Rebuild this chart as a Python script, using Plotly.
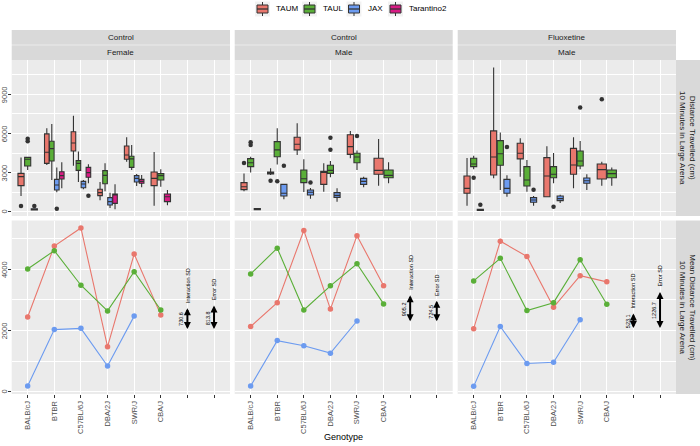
import plotly.graph_objects as go

# ---------------- data ----------------
GENOTYPES = ["BALB/cJ", "BTBR", "C57BL/6J", "DBA/2J", "SWR/J", "CBA/J"]
X_TICK_LABELS = GENOTYPES + ["", ""]
STRAINS = ["TAUM", "TAUL", "JAX", "Tarantino2"]
COLORS = ["#E9776D", "#5AAF38", "#6C9BF0", "#D81B84"]
PANEL_TREATMENT = ["Control", "Control", "Fluoxetine"]
PANEL_SEX = ["Female", "Male", "Male"]
ROW_LABELS = ["Distance Travelled (cm)<br>10 Minutes in Large Arena",
              "Mean Distance Travelled (cm)<br>10 Minutes in Large Arena"]
TOP_Y_TICKS = [0, 3000, 6000, 9000]
BOTTOM_Y_TICKS = [0, 2000, 4000]

# box stats per genotype: (q1, median, q3, lower whisker, upper whisker); None = no data
ctrl_f_taum_box = [(2000, 2690, 2940, 1200, 4150), (3710, 4560, 5970, 3580, 6400), (4660, 5270, 6140, 3530, 7370),
                   (1230, 1460, 1720, 870, 2280), (4020, 4350, 5040, 3840, 5710), (2000, 2560, 3050, 460, 4580)]
ctrl_f_taul_box = [(3510, 4020, 4170, 3200, 4220), (3890, 4840, 5400, 2430, 6730), (3170, 3710, 3920, 2280, 4610),
                   (2150, 2790, 3150, 1560, 3710), (3400, 4050, 4250, 3200, 5120), (2430, 2770, 2920, 1920, 3250)]
ctrl_f_jax_box = [(130, 180, 230, 100, 260), (1660, 2050, 2480, 1490, 3400), (1840, 2130, 2330, 1720, 2430),
                  (510, 770, 1080, 280, 1460), (2280, 2560, 2770, 1970, 2890), None]
ctrl_f_tar_box = [None, (2510, 2770, 3070, 1790, 3790), (2640, 3000, 3400, 2180, 3640),
                  (640, 1280, 1360, 180, 2100), (2180, 2330, 2480, 1870, 2820), (770, 1150, 1360, 490, 1660)]

ctrl_m_taum_box = [(1690, 1920, 2230, 1560, 2940), (2900, 3000, 3050, 2820, 3330), (4740, 5170, 5710, 4350, 6780),
                   (2100, 3020, 3100, 1540, 3710), (4400, 4990, 5910, 4100, 6200), (2870, 3170, 4100, 2000, 5580)]
ctrl_m_taul_box = [(3460, 3760, 4070, 3000, 4220), (4220, 4740, 5380, 3630, 6400), (2230, 2530, 3200, 1510, 4020),
                   (2940, 3170, 3560, 2640, 3890), (3760, 4200, 4480, 3200, 4690), (2610, 2790, 3200, 2180, 3790)]
ctrl_m_jax_box = [(150, 200, 250, 120, 280), (1200, 1410, 2100, 950, 2100), (1280, 1490, 1660, 1000, 1820),
                  (1100, 1250, 1460, 770, 1790), (2100, 2330, 2560, 1870, 2690), None]
ctrl_m_tar_box = [None, None, None, None, None, None]

flx_m_taum_box = [(1410, 1790, 2740, 460, 4120), (2820, 4200, 6200, 2560, 11060), (4050, 4480, 5250, 2690, 5630),
                  (1150, 2740, 4150, 1100, 5020), (2870, 3580, 4860, 1790, 5710), (2510, 3230, 3660, 2000, 3840)]
flx_m_taul_box = [(3460, 3660, 4100, 3250, 4300), (3560, 4450, 5450, 1660, 6070), (1970, 2430, 3460, 1540, 3970),
                  (2610, 2870, 3460, 2180, 4510), (3510, 3890, 4660, 3250, 5430), (2610, 2920, 3200, 2000, 3400)]
flx_m_jax_box = [(100, 150, 180, 90, 200), (1410, 1790, 2480, 1150, 2790), (720, 900, 1080, 460, 1200),
                 (850, 1000, 1200, 670, 1310), (2180, 2380, 2590, 1660, 2870), None]
flx_m_tar_box = [None, None, None, None, None, None]

# outliers per genotype
ctrl_f_taum_out = [[430], [], [], [], [], []]
ctrl_f_taul_out = [[5400, 5600], [], [], [], [], []]
ctrl_f_jax_out = [[430], [230], [], [], [], []]
ctrl_f_tar_out = [[], [], [1230], [], [], []]
ctrl_m_taum_out = [[3740], [2380], [], [], [], []]
ctrl_m_taul_out = [[5120, 5320], [2330], [], [4760, 5680], [5810], []]
ctrl_m_jax_out = [[], [3530], [2250], [], [], []]
ctrl_m_tar_out = [[], [], [], [], [], []]
flx_m_taum_out = [[], [], [], [], [], [8630]]
flx_m_taul_out = [[2610], [], [], [380], [7990], []]
flx_m_jax_out = [[540], [4970], [1690], [], [], []]
flx_m_tar_out = [[], [], [], [], [], []]

# means per genotype (bottom row)
ctrl_f_taum_mean = [2440, 4760, 5350, 1470, 4500, 2510]
ctrl_f_taul_mean = [4010, 4610, 3480, 2640, 3920, 2670]
ctrl_f_jax_mean = [185, 2030, 2070, 840, 2470]
ctrl_m_taum_mean = [2130, 2910, 5270, 2700, 5100, 3460]
ctrl_m_taul_mean = [3850, 4690, 2670, 3460, 4180, 2870]
ctrl_m_jax_mean = [185, 1670, 1500, 1260, 2310]
flx_m_taum_mean = [2060, 4920, 4420, 2760, 3790, 3590]
flx_m_taul_mean = [3620, 4360, 2650, 2910, 4310, 2860]
flx_m_jax_mean = [175, 2130, 920, 960, 2350]

INTERACTION_SD = [730.6, 905.2, 523.1]
ERROR_SD = [813.8, 724.5, 1226.7]
SD_BASE = [2000, 2250, 2030]

BOXES = [[ctrl_f_taum_box, ctrl_f_taul_box, ctrl_f_jax_box, ctrl_f_tar_box],
         [ctrl_m_taum_box, ctrl_m_taul_box, ctrl_m_jax_box, ctrl_m_tar_box],
         [flx_m_taum_box, flx_m_taul_box, flx_m_jax_box, flx_m_tar_box]]
OUTS = [[ctrl_f_taum_out, ctrl_f_taul_out, ctrl_f_jax_out, ctrl_f_tar_out],
        [ctrl_m_taum_out, ctrl_m_taul_out, ctrl_m_jax_out, ctrl_m_tar_out],
        [flx_m_taum_out, flx_m_taul_out, flx_m_jax_out, flx_m_tar_out]]
MEANS = [[ctrl_f_taum_mean, ctrl_f_taul_mean, ctrl_f_jax_mean],
         [ctrl_m_taum_mean, ctrl_m_taul_mean, ctrl_m_jax_mean],
         [flx_m_taum_mean, flx_m_taul_mean, flx_m_jax_mean]]

# ---------------- layout geometry (pixels -> paper) ----------------
W, H = 700, 446
COLS_PX = [(11.7, 230.0), (234.7, 452.7), (457.7, 676.0)]
ROWS_PX = [(60.0, 216.0), (220.5, 394.0)]
FONT = "Liberation Sans, Arial, sans-serif"


def px_x(p):
    return p / W


def px_y(p):
    return 1 - p / H


fig = go.Figure()


def axname(row, col):
    i = row * 3 + col + 1
    return ("x" if i == 1 else f"x{i}"), ("y" if i == 1 else f"y{i}")


# ---------------- boxes ----------------
for p in range(3):
    xa, ya = axname(0, p)
    for g in range(len(GENOTYPES)):
        present = [s for s in range(4) if BOXES[p][s][g] is not None]
        n = len(present)
        for k, s in enumerate(present):
            w = 0.75 / n
            xpos = (g + 1) + (k - (n - 1) / 2) * w
            q1, med, q3, lo, hi = BOXES[p][s][g]
            fig.add_trace(go.Box(
                x=[xpos], q1=[q1], median=[med], q3=[q3], lowerfence=[lo], upperfence=[hi],
                width=w * 0.92, fillcolor=COLORS[s], line=dict(color="#333333", width=1.1),
                whiskerwidth=0, boxpoints=False, showlegend=False, hoverinfo="skip",
                xaxis=xa, yaxis=ya))
            outs = OUTS[p][s][g]
            if outs:
                fig.add_trace(go.Scatter(
                    x=[xpos] * len(outs), y=outs, mode="markers",
                    marker=dict(color="#333333", size=4.5), showlegend=False, hoverinfo="skip",
                    xaxis=xa, yaxis=ya))

# ---------------- means ----------------
for p in range(3):
    xa, ya = axname(1, p)
    for s in range(3):
        vals = MEANS[p][s]
        fig.add_trace(go.Scatter(
            x=list(range(1, len(vals) + 1)), y=vals, mode="lines+markers",
            line=dict(color=COLORS[s], width=1.1), marker=dict(color=COLORS[s], size=5.5),
            showlegend=False, hoverinfo="skip", xaxis=xa, yaxis=ya))

# ---------------- axes ----------------
layout = dict(
    width=W, height=H, margin=dict(l=0, r=0, t=0, b=0),
    paper_bgcolor="white", plot_bgcolor="#EBEBEB", boxmode="overlay",
    showlegend=False, font=dict(family=FONT, color="#4D4D4D"),
)
for row in range(2):
    for col in range(3):
        i = row * 3 + col + 1
        xk = "xaxis" if i == 1 else f"xaxis{i}"
        yk = "yaxis" if i == 1 else f"yaxis{i}"
        ya_name = "y" if i == 1 else f"y{i}"
        xa_name = "x" if i == 1 else f"x{i}"
        x0, x1 = COLS_PX[col]
        y0, y1 = ROWS_PX[row]
        bottom = row == 1
        layout[xk] = dict(
            domain=[px_x(x0), px_x(x1)], anchor=ya_name, range=[0.4, 8.6],
            tickmode="array", tickvals=list(range(1, 9)), ticktext=X_TICK_LABELS,
            showticklabels=bottom, ticks="outside" if bottom else "", ticklen=3, tickwidth=1,
            tickcolor="#333333", tickangle=-90, tickfont=dict(size=7.5, color="#4D4D4D"),
            showgrid=True, gridcolor="white", gridwidth=1.1, zeroline=False, showline=False,
            automargin=False, fixedrange=True)
        if row == 0:
            yr, ytv, ymin = [-330, 11640], TOP_Y_TICKS, [1500, 4500, 7500, 10500]
        else:
            yr, ytv, ymin = [-75, 5595], BOTTOM_Y_TICKS, [1000, 3000, 5000]
        left = col == 0
        layout[yk] = dict(
            domain=[px_y(y1), px_y(y0)], anchor=xa_name, range=yr,
            tickmode="array", tickvals=ytv,
            showticklabels=False, ticks="outside" if left else "", ticklen=2.5, tickwidth=1,
            tickcolor="#333333",
            showgrid=True, gridcolor="white", gridwidth=1.1, zeroline=False, showline=False,
            minor=dict(tickmode="array", tickvals=ymin, showgrid=True, gridcolor="white",
                       gridwidth=0.5, ticks=""),
            automargin=False, fixedrange=True)
fig.update_layout(**layout)

shapes = []
annotations = []
STRIP = "#D9D9D9"

# y tick labels (rotated, ggplot style)
for ya, ticks in [("y", TOP_Y_TICKS), ("y4", BOTTOM_Y_TICKS)]:
    for v in ticks:
        annotations.append(dict(xref="paper", yref=ya, x=px_x(4.8), y=v, text=str(v), showarrow=False,
                                textangle=-90, xanchor="center", yanchor="middle",
                                font=dict(size=7.5, color="#4D4D4D", family=FONT)))

# top strips
for col in range(3):
    x0, x1 = COLS_PX[col]
    for (sy0, sy1, label) in [(30, 44.8, PANEL_TREATMENT[col]), (45.2, 60, PANEL_SEX[col])]:
        shapes.append(dict(type="rect", xref="paper", yref="paper", x0=px_x(x0), x1=px_x(x1),
                           y0=px_y(sy1), y1=px_y(sy0), fillcolor=STRIP, line=dict(width=0), layer="below"))
        annotations.append(dict(xref="paper", yref="paper", x=px_x((x0 + x1) / 2), y=px_y((sy0 + sy1) / 2),
                                text=label, showarrow=False, xanchor="center", yanchor="middle",
                                font=dict(size=8, color="#1A1A1A", family=FONT)))
# right strips
for row in range(2):
    y0, y1 = ROWS_PX[row]
    shapes.append(dict(type="rect", xref="paper", yref="paper", x0=px_x(676), x1=px_x(700),
                       y0=px_y(y1), y1=px_y(y0), fillcolor=STRIP, line=dict(width=0), layer="below"))
    annotations.append(dict(xref="paper", yref="paper", x=px_x(688), y=px_y((y0 + y1) / 2),
                            text=ROW_LABELS[row], showarrow=False, textangle=90,
                            xanchor="center", yanchor="middle",
                            font=dict(size=8, color="#1A1A1A", family=FONT)))

# SD arrows and labels
for p in range(3):
    xa, ya = axname(1, p)
    for pos, sd, name in [(7, INTERACTION_SD[p], "Interaction SD"), (8, ERROR_SD[p], "Error SD")]:
        base = SD_BASE[p]
        top = base + sd
        annotations.append(dict(xref=xa, yref=ya, axref=xa, ayref=ya, x=pos, y=top, ax=pos, ay=base,
                                text="", showarrow=True, arrowside="end+start", arrowhead=2,
                                startarrowhead=2, arrowsize=0.7, startarrowsize=0.7, arrowwidth=2,
                                arrowcolor="black", standoff=0, startstandoff=0))
        annotations.append(dict(xref=xa, yref=ya, x=pos, y=top, yshift=3, text=name, showarrow=False,
                                textangle=-90, xanchor="center", yanchor="bottom",
                                font=dict(size=5.5, color="black", family=FONT)))
        annotations.append(dict(xref=xa, yref=ya, x=pos - 0.22, y=(base + top) / 2, text=f"{sd:.1f}",
                                showarrow=False, textangle=-90, xanchor="center", yanchor="middle",
                                font=dict(size=5.5, color="black", family=FONT)))

# axis title
annotations.append(dict(xref="paper", yref="paper", x=px_x((11.7 + 676) / 2), y=px_y(437),
                        text="Genotype", showarrow=False, xanchor="center", yanchor="middle",
                        font=dict(size=9, color="black", family=FONT)))

# legend (drawn manually, ggplot style)
LEG_ICON_X = [262.5, 309.5, 354.0, 395.5]
LEG_TEXT_X = [274.0, 321.0, 365.5, 407.0]
LEG_Y = 9.0
for s in range(4):
    cx = LEG_ICON_X[s]
    shapes.append(dict(type="rect", xref="paper", yref="paper", x0=px_x(cx - 7.5), x1=px_x(cx + 7.5),
                       y0=px_y(LEG_Y + 7.5), y1=px_y(LEG_Y - 7.5), fillcolor="#F2F2F2", line=dict(width=0)))
    shapes.append(dict(type="line", xref="paper", yref="paper", x0=px_x(cx), x1=px_x(cx),
                       y0=px_y(LEG_Y + 7), y1=px_y(LEG_Y - 7), line=dict(color="#333333", width=1)))
    shapes.append(dict(type="rect", xref="paper", yref="paper", x0=px_x(cx - 5.5), x1=px_x(cx + 5.5),
                       y0=px_y(LEG_Y + 4), y1=px_y(LEG_Y - 4), fillcolor=COLORS[s],
                       line=dict(color="#333333", width=1)))
    shapes.append(dict(type="line", xref="paper", yref="paper", x0=px_x(cx - 5.5), x1=px_x(cx + 5.5),
                       y0=px_y(LEG_Y), y1=px_y(LEG_Y), line=dict(color="#333333", width=1.3)))
    annotations.append(dict(xref="paper", yref="paper", x=px_x(LEG_TEXT_X[s]), y=px_y(LEG_Y),
                            text=STRAINS[s], showarrow=False, xanchor="left", yanchor="middle",
                            font=dict(size=8, color="black", family=FONT)))

fig.update_layout(shapes=shapes, annotations=annotations)
fig.write_html("out.html", config={"displayModeBar": False},
               post_script="document.body.style.margin='0px';document.body.style.overflow='hidden';")
